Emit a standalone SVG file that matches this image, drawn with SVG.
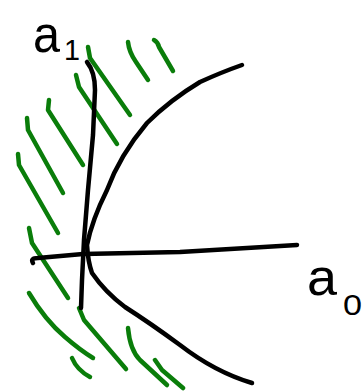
<svg xmlns="http://www.w3.org/2000/svg" width="363" height="391" viewBox="0 0 363 391">
<style>
.ax{fill:none;stroke:#000;stroke-width:4.5;stroke-linecap:round;stroke-linejoin:round}
.h{fill:none;stroke:#0a7d0a;stroke-width:4.5;stroke-linecap:round;stroke-linejoin:round}
.lb{font-family:"Liberation Sans",sans-serif;fill:#000}
</style>
<rect width="363" height="391" fill="#fff"/>
<g id="hatching">
<path class="h" d="M88,47 L90,58 L130,115"/>
<path class="h" d="M128,42 Q129,52 136,62 L148,80"/>
<path class="h" d="M154,40 Q158,42 159,47 L173,71"/>
<path class="h" d="M76,75 L79,87 L117,144"/>
<path class="h" d="M49,100 L48,110 L83,165"/>
<path class="h" d="M27,118 L28,130 L63,193"/>
<path class="h" d="M18,154 L19,165 L58,233"/>
<path class="h" d="M29,228 L32,243 L68,298"/>
<path class="h" d="M29,293 Q45,320 65,337 Q80,350 93,358"/>
<path class="h" d="M72,358 Q77,370 90,377"/>
<path class="h" d="M79,308 L84,320 L126,369"/>
<path class="h" d="M128,328 Q130,350 140,360 L167,385"/>
<path class="h" d="M155,360 L162,370 L183,388"/>
</g>
<g id="connectors">
<path id="axis-a1" class="ax" d="M87,62 Q95,72 95,90 L93,135 L88,190 L84,240 L82,280 L81,308"/>
<path id="axis-a0" class="ax" d="M33,263 Q30,258 38,258 L83,254 L180,252 L297,245"/>
<path id="curve" class="ax" d="M242,65 Q222,72 200,82 Q170,100 147,123 Q120,155 107,190 Q92,220 87,245 Q88,262 92,273 Q105,292 125,307 Q150,323 180,345 Q215,372 252,383"/>
</g>
<g id="label-a1">
<text class="lb" x="33" y="52" font-size="52" textLength="27" lengthAdjust="spacingAndGlyphs">a</text>
<text class="lb" x="64" y="60" font-size="30" textLength="16" lengthAdjust="spacingAndGlyphs">1</text>
</g>
<g id="label-a0">
<text class="lb" x="307" y="295" font-size="52" textLength="30" lengthAdjust="spacingAndGlyphs">a</text>
<text class="lb" x="343" y="315" font-size="30" textLength="19" lengthAdjust="spacingAndGlyphs">0</text>
</g>
</svg>
